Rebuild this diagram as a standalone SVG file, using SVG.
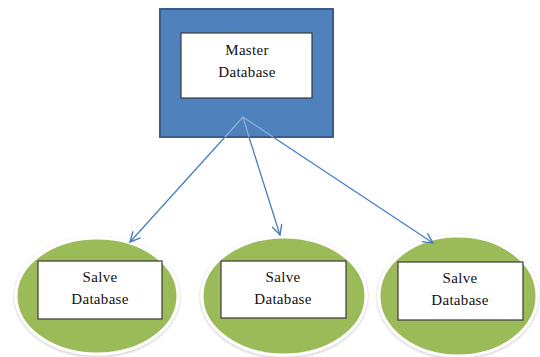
<svg xmlns="http://www.w3.org/2000/svg" width="540" height="357" viewBox="0 0 540 357">
  <defs>
    <marker id="arr" viewBox="0 0 12 12" refX="11" refY="6" markerWidth="12" markerHeight="12" markerUnits="userSpaceOnUse" orient="auto">
      <path d="M1,1 L11,6 L1,11" fill="none" stroke="#4A7EBB" stroke-width="1.4"/>
    </marker>
    <filter id="sh" x="-10%" y="-10%" width="120%" height="120%">
      <feGaussianBlur in="SourceAlpha" stdDeviation="1.5"/>
      <feOffset dx="0" dy="1" result="b"/>
      <feComponentTransfer><feFuncA type="linear" slope="0.25"/></feComponentTransfer>
      <feMerge><feMergeNode/><feMergeNode in="SourceGraphic"/></feMerge>
    </filter>
  </defs>
  <style>
    .ell { fill: #9BBB59; stroke: #ffffff; stroke-width: 3; }
    .lbl { fill: #ffffff; stroke: #3a3a3a; stroke-width: 1.2; }
    .t { font-family: "Liberation Serif", "Times New Roman", serif; font-size: 15px; fill: #111; text-anchor: middle; letter-spacing: 0.3px; }
    .conn { stroke: #4A7EBB; stroke-width: 1.3; fill: none; }
    .inner { stroke: #8FB0D8; stroke-width: 1.2; fill: none; }
  </style>
  <rect width="540" height="357" fill="#ffffff"/>

  <g id="master">
    <rect x="160" y="9" width="173" height="128" fill="#4F81BD" stroke="#385D8A" stroke-width="2"/>
    <rect class="lbl" x="181" y="33" width="131" height="65"/>
    <text class="t" x="247" y="55">Master</text>
    <text class="t" x="247" y="77">Database</text>
  </g>

  <g id="slave1">
    <ellipse class="ell" cx="97" cy="296" rx="81" ry="58" filter="url(#sh)"/>
    <rect class="lbl" x="38" y="261" width="124" height="58"/>
    <text class="t" x="100" y="282">Salve</text>
    <text class="t" x="100" y="304">Database</text>
  </g>

  <g id="slave2">
    <ellipse class="ell" cx="284" cy="296" rx="82" ry="59" filter="url(#sh)"/>
    <rect class="lbl" x="221" y="261" width="125" height="57"/>
    <text class="t" x="283" y="282">Salve</text>
    <text class="t" x="283" y="304">Database</text>
  </g>

  <g id="slave3">
    <ellipse class="ell" cx="458" cy="296" rx="79" ry="60" filter="url(#sh)"/>
    <rect class="lbl" x="398" y="262" width="125" height="58"/>
    <text class="t" x="460" y="283">Salve</text>
    <text class="t" x="460" y="305">Database</text>
  </g>

  <g id="connectors">
    <path class="inner" d="M243,117 L225,137 M243,117 L249,137 M243,117 L273,137"/>
    <line class="conn" x1="225" y1="137" x2="130" y2="242" marker-end="url(#arr)"/>
    <line class="conn" x1="249" y1="137" x2="280" y2="235" marker-end="url(#arr)"/>
    <line class="conn" x1="273" y1="137" x2="433" y2="243" marker-end="url(#arr)"/>
  </g>
</svg>
